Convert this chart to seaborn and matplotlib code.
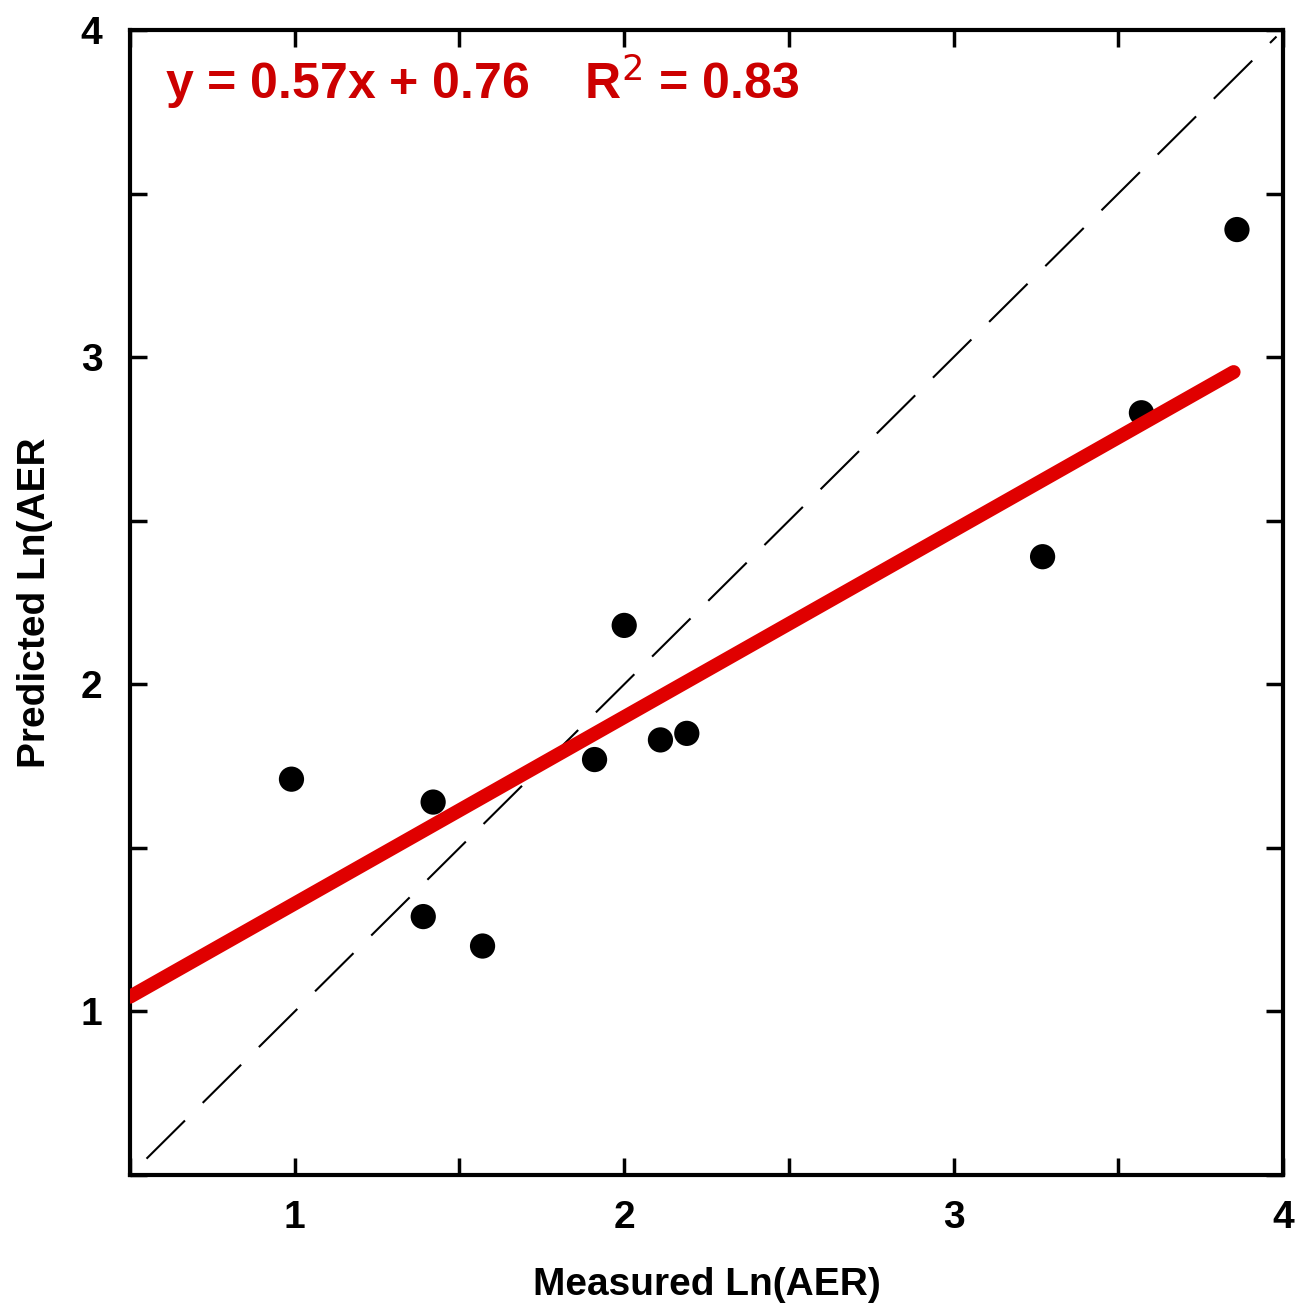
import numpy as np
import pandas as pd
import seaborn as sns
import matplotlib.pyplot as plt

# measured vs predicted Ln(AER)
measured = [0.99, 1.42, 1.39, 1.57, 1.91, 2.00, 2.11, 2.19, 3.27, 3.57, 3.86]
predicted = [1.71, 1.64, 1.29, 1.20, 1.77, 2.18, 1.83, 1.85, 2.39, 2.83, 3.39]

slope, intercept, r2 = 0.57, 0.76, 0.83
fit_x = [0.5, 3.85]
ident_x = [0.55, 3.98]
ticks = [0.5, 1, 1.5, 2, 2.5, 3, 3.5, 4]
tick_labels = ["", "1", "", "2", "", "3", "", "4"]

sns.set_style("ticks")
plt.rcParams['font.family'] = ['Liberation Sans', 'DejaVu Sans']
plt.rcParams.update({"text.color": "black", "axes.labelcolor": "black",
                     "xtick.color": "black", "ytick.color": "black"})

df = pd.DataFrame({"Measured": measured, "Predicted": predicted})
fit = pd.DataFrame({"x": fit_x, "y": [slope * v + intercept for v in fit_x]})
ident = pd.DataFrame({"x": ident_x, "y": ident_x})

fig = plt.figure(figsize=(13.11, 13.04), dpi=100)
ax = fig.add_axes([0.0992, 0.0989, 0.8795, 0.8781])

sns.lineplot(data=ident, x="x", y="y", ax=ax, color="black", lw=1.5)
ax.lines[-1].set_dashes((26, 12))
sns.scatterplot(data=df, x="Measured", y="Predicted", ax=ax, color="black",
                s=330, edgecolor="none", zorder=3)
sns.lineplot(data=fit, x="x", y="y", ax=ax, color="#e00000", lw=10, zorder=4)

ax.set_xlim(0.5, 4)
ax.set_ylim(0.5, 4)
ax.set_xticks(ticks)
ax.set_yticks(ticks)
ax.set_xticklabels(tick_labels)
ax.set_yticklabels(tick_labels)
ax.tick_params(direction="in", length=12, width=2.5, top=True, right=True,
               labelsize=28)
ax.tick_params(axis="x", pad=18)
ax.tick_params(axis="y", pad=20)
for lab in ax.get_xticklabels() + ax.get_yticklabels():
    lab.set_fontweight("bold")
for sp in ax.spines.values():
    sp.set_linewidth(3)
    sp.set_color("black")

ax.set_xlabel("Measured Ln(AER)", fontsize=28, fontweight="bold", labelpad=22)
ax.set_ylabel("Predicted Ln(AER", fontsize=28, fontweight="bold", labelpad=20)

ax.text(0.03, 0.955, f"y = {slope}x + {intercept}    R$^2$ = {r2}",
        transform=ax.transAxes, color="#cc0000", fontsize=36,
        fontweight="bold", va="center", ha="left")

fig.savefig("out.png", dpi=100)
